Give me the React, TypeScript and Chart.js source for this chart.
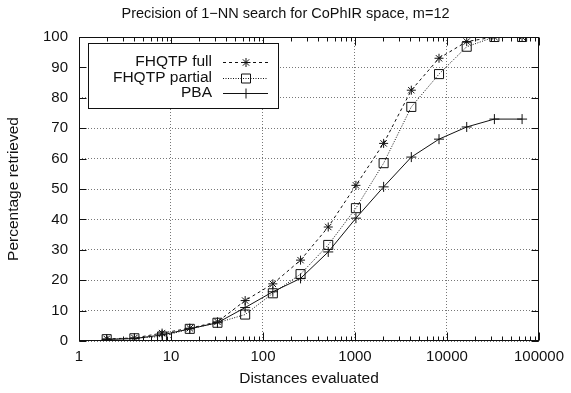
import React, { useEffect, useRef } from 'react';
import { Chart, registerables } from 'chart.js';

Chart.register(...registerables);

// ---- data ----
const distances = [2, 4, 8, 16, 32, 64, 128, 256, 512, 1024, 2048, 4096, 8192, 16384, 32768, 65536];
const fhqtpFull = [0.7, 1.0, 2.6, 4.2, 6.3, 13.3, 18.8, 26.6, 37.5, 51.2, 65.0, 82.5, 93.0, 98.5, 100, 100];
const fhqtpPartial = [0.6, 0.9, 1.5, 4.0, 6.0, 8.7, 15.7, 22.0, 31.6, 43.7, 58.5, 77.0, 87.8, 96.8, 100, 100];
const pba = [0.5, 0.8, 2.0, 4.0, 6.0, 11.0, 16.2, 20.6, 29.3, 40.4, 50.7, 60.5, 66.4, 70.4, 73.0, 73.0];
const seriesNames = ['FHQTP full', 'FHQTP partial', 'PBA'];
const xTickValues = [1, 10, 100, 1000, 10000, 100000];
const yMin = 0;
const yMax = 100;
const yStep = 10;
const titleText = 'Precision of 1\u2212NN search for CoPhIR space, m=12';
const xTitle = 'Distances evaluated';
const yTitle = 'Percentage retrieved';

const FONT = '"Liberation Sans", Arial, Helvetica, sans-serif';
const INK = '#111111';
const GRID = '#777777';

const lineStyles = [
  { dash: [3, 3], point: 'star', radius: 4.5 },
  { dash: [1, 1.5], point: 'rect', radius: 6.4 },
  { dash: [], point: 'cross', radius: 5 },
];

function drawMarker(ctx: CanvasRenderingContext2D, style: string, x: number, y: number) {
  ctx.beginPath();
  if (style === 'star') {
    const r = 4.5;
    const d = r * Math.SQRT1_2;
    ctx.moveTo(x - r, y); ctx.lineTo(x + r, y);
    ctx.moveTo(x, y - r); ctx.lineTo(x, y + r);
    ctx.moveTo(x - d, y - d); ctx.lineTo(x + d, y + d);
    ctx.moveTo(x - d, y + d); ctx.lineTo(x + d, y - d);
  } else if (style === 'rect') {
    const s = 4.5;
    ctx.rect(x - s, y - s, 2 * s, 2 * s);
  } else {
    const r = 5;
    ctx.moveTo(x - r, y); ctx.lineTo(x + r, y);
    ctx.moveTo(x, y - r); ctx.lineTo(x, y + r);
  }
  ctx.stroke();
}

const decorPlugin = {
  id: 'decor',
  afterDraw(chart: any) {
    const ctx: CanvasRenderingContext2D = chart.ctx;
    const { left, right, top, bottom } = chart.chartArea;
    const xs = chart.scales.x;
    const ys = chart.scales.y;
    ctx.save();
    ctx.strokeStyle = INK;
    ctx.lineWidth = 1;
    ctx.setLineDash([]);
    const L = Math.round(left) + 0.5;
    const R = Math.round(right) - 0.5;
    const T = Math.round(top) + 0.5;
    const B = Math.round(bottom) - 0.5;
    // ticks on x (major + minor, mirrored)
    ctx.beginPath();
    for (let d = 1; d <= 100000; d *= 10) {
      for (let m = 1; m <= 9; m++) {
        const v = d * m;
        if (v > 100000) break;
        const px = Math.round(xs.getPixelForValue(v)) + 0.5;
        const len = m === 1 ? 8 : 4;
        ctx.moveTo(px, B); ctx.lineTo(px, B - len);
        ctx.moveTo(px, T); ctx.lineTo(px, T + len);
      }
    }
    for (let v = yMin; v <= yMax; v += yStep) {
      const py = Math.round(ys.getPixelForValue(v)) + 0.5;
      ctx.moveTo(L, py); ctx.lineTo(L + 7, py);
      ctx.moveTo(R, py); ctx.lineTo(R - 7, py);
    }
    ctx.stroke();
    // frame
    ctx.strokeRect(L, T, R - L, B - T);

    // title
    ctx.fillStyle = INK;
    ctx.font = `14.5px ${FONT}`;
    ctx.textAlign = 'center';
    ctx.textBaseline = 'middle';
    ctx.fillText(titleText, chart.width / 2, 14);

    // legend
    const bx = 88.5, by = 43.5, bw = 190, bh = 65;
    ctx.fillStyle = '#ffffff';
    ctx.fillRect(bx, by, bw, bh);
    ctx.strokeRect(bx, by, bw, bh);
    ctx.font = `15.5px ${FONT}`;
    ctx.textAlign = 'right';
    ctx.fillStyle = INK;
    const rows = [62, 77.5, 93];
    seriesNames.forEach((name, i) => {
      const y = rows[i];
      ctx.fillText(name, 212, y);
      const ly = Math.round(y) + 0.5;
      ctx.setLineDash(lineStyles[i].dash);
      ctx.beginPath();
      ctx.moveTo(223, ly);
      ctx.lineTo(268, ly);
      ctx.stroke();
      ctx.setLineDash([]);
      drawMarker(ctx, lineStyles[i].point, 246, ly);
    });
    ctx.restore();
  },
};

function App() {
  const ref = useRef<HTMLCanvasElement | null>(null);
  useEffect(() => {
    if (!ref.current) return;
    const series = [fhqtpFull, fhqtpPartial, pba];
    const chart = new Chart(ref.current, {
      type: 'line',
      data: {
        datasets: series.map((vals, i) => ({
          label: seriesNames[i],
          data: distances.map((d, j) => ({ x: d, y: vals[j] })),
          borderColor: INK,
          borderWidth: 1,
          borderDash: lineStyles[i].dash,
          pointStyle: lineStyles[i].point as any,
          pointRadius: lineStyles[i].radius,
          pointBorderColor: INK,
          pointBackgroundColor: 'rgba(0,0,0,0)',
          pointBorderWidth: 1,
          tension: 0,
          fill: false,
        })),
      },
      options: {
        animation: false,
        responsive: false,
        devicePixelRatio: 1,
        layout: { padding: { top: 37, right: 27, left: 0, bottom: 0 } },
        plugins: {
          legend: { display: false },
          title: { display: false },
          tooltip: { enabled: false },
        },
        scales: {
          x: {
            type: 'logarithmic',
            min: 1,
            max: 100000,
            afterBuildTicks: (s: any) => {
              s.ticks = xTickValues.map((v) => ({ value: v }));
            },
            afterFit: (s: any) => {
              s.height = 52;
            },
            ticks: {
              autoSkip: false,
              maxRotation: 0,
              padding: 7,
              color: INK,
              font: { family: FONT, size: 15 },
              callback: (v: any) => String(v),
            },
            grid: { color: GRID, lineWidth: 1, drawTicks: false },
            border: { display: false, dash: [1, 2] },
            title: {
              display: true,
              text: xTitle,
              color: INK,
              font: { family: FONT, size: 15.5 },
              padding: { top: 0, bottom: 5 },
            },
          },
          y: {
            type: 'linear',
            min: yMin,
            max: yMax,
            afterFit: (s: any) => {
              s.width = 79;
            },
            ticks: {
              stepSize: yStep,
              padding: 11,
              color: INK,
              font: { family: FONT, size: 15 },
            },
            grid: { color: GRID, lineWidth: 1, drawTicks: false },
            border: { display: false, dash: [1, 2] },
            title: {
              display: true,
              text: yTitle,
              color: INK,
              font: { family: FONT, size: 15.5 },
              padding: { top: 4, bottom: 0 },
            },
          },
        },
      },
      plugins: [decorPlugin],
    });
    return () => chart.destroy();
  }, []);
  return (
    <div style={{ position: 'fixed', left: 0, top: 0, width: 571, height: 393, background: '#fff' }}>
      <canvas ref={ref} width={571} height={393} style={{ display: 'block', width: 571, height: 393 }} />
    </div>
  );
}

export default App;
